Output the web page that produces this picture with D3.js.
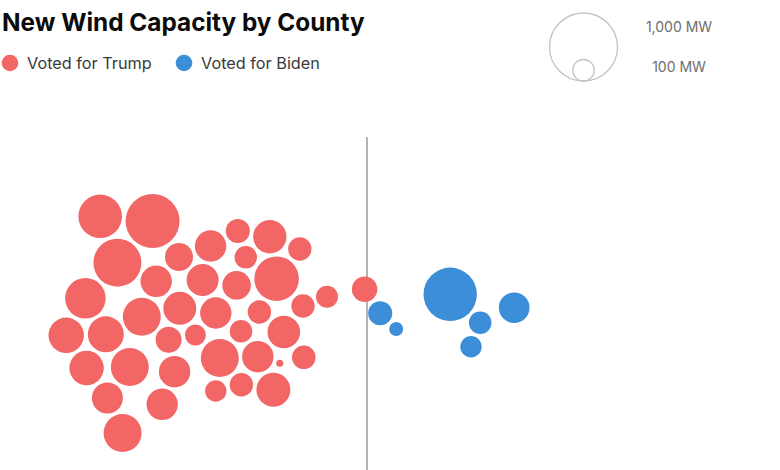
<!DOCTYPE html>
<html><head><meta charset="utf-8">
<script src="https://cdn.jsdelivr.net/npm/d3@7"></script>
<style>html,body{margin:0;padding:0;background:#fff}svg{display:block}text{font-family:Inter,"Noto Sans",sans-serif}</style>
</head><body><svg id="c" width="780" height="470"></svg>
<script>
const title = "New Wind Capacity by County";
const legendLabels = ["Voted for Trump", "Voted for Biden"];
const sizeLabels = ["1,000 MW", "100 MW"];
const sizeValues = [1000, 100];
// margin: percentage-point lean, spread: beeswarm offset, mw: new capacity
const trumpMargin = [-66.7,-53.6,-62.4,-47,-52.7,-70.4,-56.3,-46.8,-39.1,-32.3,-24.3,-16.8,-30.3,-41.1,-32.6,-22.6,-10,-16,-37.8,-26.9,-20.8,-31.5,-42.9,-0.6,-75.2,-65.3,-49.6,-70.1,-59.3,-48.1,-64.9,-51.2,-61.1,-36.8,-27.3,-21.8,-15.8,-37.8,-31.4,-23.4];
const trumpSpread = [-83.7,-79,-37.3,-43,-18.7,-1.7,16.7,8.3,-54,-69,-63.3,-51,-42.7,-20,-14.7,-21.3,-3.3,6,13,12,32,31.3,35,-10.7,35.3,34.3,39.7,68,67,71.7,98,104.3,133,58,56.7,63.3,57.3,91,84.7,89.7];
const trumpMW = [411,631,498,170,213,356,312,235,213,125,241,118,110,221,177,430,105,118,213,118,230,110,95,140,271,280,146,256,312,213,208,213,312,312,213,11,120,99,118,250];
const bidenMargin = [20.8,3.3,7.3,28.3,26,36.8];
const bidenSpread = [-5.7,13.3,29,22.7,46.7,7.7];
const bidenMW = [617,125,42,110,99,203];

const svg = d3.select("#c");
const x = d3.scaleLinear().domain([-100,100]).range([-33,767]);
const y = d3.scaleLinear().domain([-100,100]).range([200,400]);
const r = d3.scaleSqrt().domain([0,1000]).range([0,34]);
const RED = "#f36666", BLUE = "#3d8ed8";

svg.append("text").attr("x",2).attr("y",31).attr("font-size",24.35).attr("font-weight",700).attr("fill","#0b0b0b").text(title);
const legendX = [10,184];
[RED,BLUE].forEach((col,i)=>{
  svg.append("circle").attr("cx",legendX[i]).attr("cy",63).attr("r",8.3).attr("fill",col);
  svg.append("text").attr("x",legendX[i]+17).attr("y",68.5).attr("font-size",16.25).attr("fill","#3a3a3a").text(legendLabels[i]);
});

// size legend
const sizeCx = 583.5, sizeBottom = 81;
svg.selectAll("circle.size").data(sizeValues).join("circle").attr("class","size")
  .attr("cx",sizeCx).attr("cy",d=>sizeBottom-r(d)).attr("r",d=>r(d))
  .attr("fill","none").attr("stroke","#c4c4c4").attr("stroke-width",1.3);
const sizeLabelY = [27,66.5];
sizeLabels.forEach((t,i)=>svg.append("text").attr("x",679).attr("y",sizeLabelY[i]+5).attr("text-anchor","middle")
  .attr("font-size",14).attr("fill","#6e6e6e").text(t));

// zero line
svg.append("line").attr("x1",x(0)).attr("x2",x(0)).attr("y1",137).attr("y2",470).attr("stroke","#8c8c8c").attr("stroke-width",1.3);

const trump = trumpMargin.map((m,i)=>({m,s:trumpSpread[i],mw:trumpMW[i],c:RED}));
const biden = bidenMargin.map((m,i)=>({m,s:bidenSpread[i],mw:bidenMW[i],c:BLUE}));
svg.append("g").selectAll("circle").data(trump.concat(biden)).join("circle")
  .attr("cx",d=>x(d.m)).attr("cy",d=>y(d.s)).attr("r",d=>r(d.mw)).attr("fill",d=>d.c);
</script></body></html>
